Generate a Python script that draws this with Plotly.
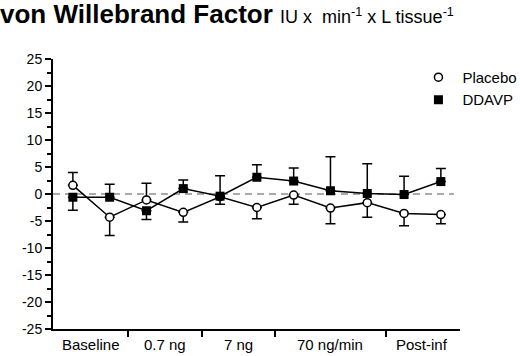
import plotly.graph_objects as go

# ---- data ----
groups = ["Baseline", "0.7 ng", "7 ng", "70 ng/min", "Post-inf"]
group_points = [[0, 1], [2, 3], [4, 5], [6, 7, 8], [9, 10]]
x_idx = list(range(11))

placebo = [1.6, -4.3, -1.1, -3.4, -0.5, -2.5, -0.2, -2.6, -1.6, -3.6, -3.8]
placebo_err_up = [2.4, 0, 3.1, 0, 0, 0, 0, 0, 0, 0, 0]
placebo_err_down = [0, 3.4, 0, 1.8, 1.4, 2.1, 1.7, 2.9, 2.7, 2.3, 1.7]

ddavp = [-0.6, -0.6, -3.1, 1.0, -0.4, 3.1, 2.4, 0.6, 0.1, -0.1, 2.3]
ddavp_err_up = [0, 2.4, 0, 1.6, 3.8, 2.3, 2.4, 6.3, 5.5, 3.4, 2.4]
ddavp_err_down = [2.4, 0, 1.6, 0, 0, 0, 0, 0, 0, 0, 0]

y_ticks = [25, 20, 15, 10, 5, 0, -5, -10, -15, -20, -25]

FONT = "Liberation Sans, Arial, Helvetica, sans-serif"

group_centers = [sum(g) / len(g) for g in group_points]
separators = [(group_points[i][-1] + group_points[i + 1][0]) / 2 for i in range(len(group_points) - 1)]

fig = go.Figure()

fig.add_trace(go.Scatter(
    x=x_idx, y=placebo, mode="lines+markers", showlegend=False,
    line=dict(color="black", width=1.5),
    marker=dict(symbol="circle", size=8, color="white", line=dict(color="black", width=1.5)),
    error_y=dict(type="data", symmetric=False, array=placebo_err_up, arrayminus=placebo_err_down,
                 color="black", thickness=1.5, width=5),
))
fig.add_trace(go.Scatter(
    x=x_idx, y=ddavp, mode="lines+markers", showlegend=False,
    line=dict(color="black", width=1.5),
    marker=dict(symbol="square", size=9, color="black", line=dict(color="black", width=0)),
    error_y=dict(type="data", symmetric=False, array=ddavp_err_up, arrayminus=ddavp_err_down,
                 color="black", thickness=1.5, width=5),
))
# legend entries (symbol only)
fig.add_trace(go.Scatter(x=[None], y=[None], mode="markers", name="Placebo",
                         marker=dict(symbol="circle", size=8, color="white", line=dict(color="black", width=1.5))))
fig.add_trace(go.Scatter(x=[None], y=[None], mode="markers", name="DDAVP",
                         marker=dict(symbol="square", size=9, color="black", line=dict(width=0))))

# dashed zero line
fig.add_shape(type="line", xref="paper", yref="y", x0=0, x1=0.985, y0=0, y1=0,
              line=dict(color="#555555", width=1, dash="7px,5px"), layer="below")

# group labels
for name, cx in zip(groups, group_centers):
    fig.add_annotation(x=cx, xref="x", y=0, yref="paper", yanchor="top", yshift=-5,
                       text=name, showarrow=False, font=dict(family=FONT, size=15, color="black"))

fig.update_layout(
    width=520, height=356,
    margin=dict(l=53, r=60, t=59, b=27, autoexpand=False),
    paper_bgcolor="white", plot_bgcolor="white",
    font=dict(family=FONT, color="black", size=14),
    title=dict(
        text="<b>von Willebrand Factor</b> <span style='font-size:18px'>IU x&nbsp; min<sup>-1</sup> x L tissue<sup>-1</sup></span>",
        xref="container", x=0, xanchor="left",
        yref="container", y=1 - 14 / 356, yanchor="middle",
        font=dict(family=FONT, size=26, color="black"),
    ),
    legend=dict(xref="container", x=0.797, y=0.993, xanchor="left", yanchor="top",
                itemwidth=38,
                font=dict(family=FONT, size=15, color="black"),
                bgcolor="rgba(0,0,0,0)", borderwidth=0),
    xaxis=dict(range=[-0.54, 10.52], showgrid=False, zeroline=False,
               showline=True, linecolor="black", linewidth=2,
               tickvals=separators, showticklabels=False,
               ticks="outside", ticklen=6, tickwidth=1.5, tickcolor="black"),
    yaxis=dict(range=[-25, 25], showgrid=False, zeroline=False,
               showline=True, linecolor="black", linewidth=2,
               tickvals=y_ticks, ticktext=[str(v) for v in y_ticks],
               ticks="outside", ticklen=6, tickwidth=1.5, tickcolor="black",
               tickfont=dict(family=FONT, size=14, color="black"),
               minor=dict(dtick=2.5, ticks="outside", ticklen=4, tickwidth=1.5, tickcolor="black")),
)

fig.write_html("out.html", config={"displayModeBar": False},
               post_script="document.body.style.margin='0px';")
